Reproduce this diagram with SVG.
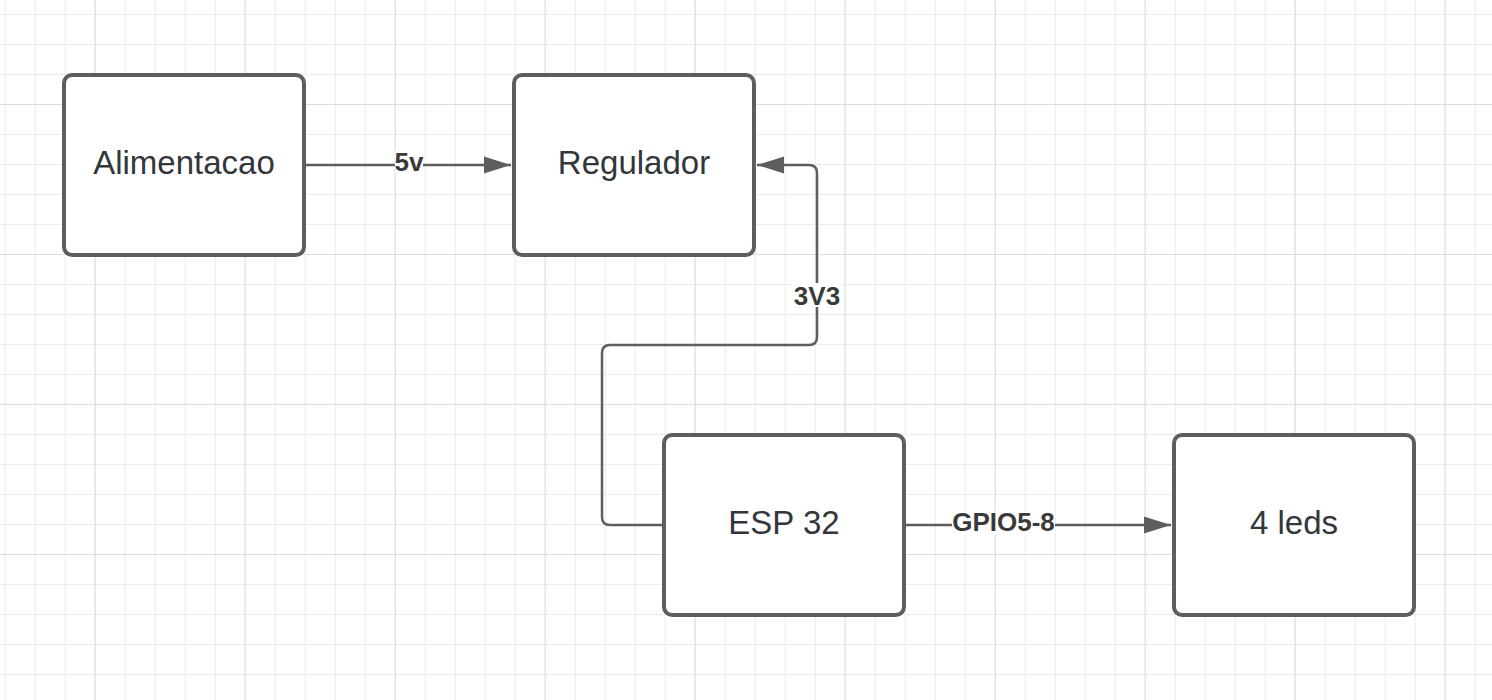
<svg xmlns="http://www.w3.org/2000/svg" width="1492" height="700" viewBox="0 0 1492 700">
<defs>
<pattern id="minor" x="4.7" y="14" width="30" height="30" patternUnits="userSpaceOnUse">
<path d="M0 0.5H30M0.5 0V30" fill="none" stroke="#ebebeb" stroke-width="1"/>
</pattern>
<pattern id="major" x="94.7" y="104" width="150" height="150" patternUnits="userSpaceOnUse">
<path d="M0 0.5H150M0.5 0V150" fill="none" stroke="#dedede" stroke-width="1"/>
</pattern>
<marker id="arrow" markerUnits="userSpaceOnUse" markerWidth="28" markerHeight="18" refX="27" refY="9" orient="auto">
<path d="M0 0.5L27 9L0 17.5Z" fill="#5e5e5e"/>
</marker>
<style>
.box{fill:#fff;stroke:#5e5e5e;stroke-width:4}
.lbl{font-family:"Liberation Sans",Arial,sans-serif;font-size:33px;fill:#33363b;text-anchor:middle}
.edge{fill:none;stroke:#5e5e5e;stroke-width:2.5;marker-end:url(#arrow)}
.etxt{font-family:"Liberation Sans",Arial,sans-serif;font-size:26px;font-weight:bold;fill:#3a3a3a;text-anchor:middle}
.ebg{fill:#fff}
</style>
</defs>
<rect width="1492" height="700" fill="#fff"/>
<rect width="1492" height="700" fill="url(#minor)"/>
<rect width="1492" height="700" fill="url(#major)"/>
<g id="connectors">
<g id="e1">
<path class="edge" d="M305 165H511"/>
<rect class="ebg" x="395" y="150" width="28" height="24"/>
<text class="etxt" x="409" y="170.5">5v</text>
</g>
<g id="e2">
<path class="edge" d="M664 525H610Q602 525 602 517V353Q602 345 610 345H809Q817 345 817 337V173Q817 165 809 165H757"/>
<rect class="ebg" x="792" y="283" width="50" height="24"/>
<text class="etxt" x="817" y="304.5">3V3</text>
</g>
<g id="e3">
<path class="edge" d="M905 525H1171"/>
<rect class="ebg" x="952" y="511" width="103" height="24"/>
<text class="etxt" x="1003.5" y="531">GPIO5-8</text>
</g>
</g>
<g id="alimentacao">
<rect class="box" x="64" y="75" width="240" height="180" rx="8"/>
<text class="lbl" x="184" y="174">Alimentacao</text>
</g>
<g id="regulador">
<rect class="box" x="514" y="75" width="240" height="180" rx="8"/>
<text class="lbl" x="634" y="174">Regulador</text>
</g>
<g id="esp32">
<rect class="box" x="664" y="435" width="240" height="180" rx="8"/>
<text class="lbl" x="784" y="534">ESP 32</text>
</g>
<g id="leds">
<rect class="box" x="1174" y="435" width="240" height="180" rx="8"/>
<text class="lbl" x="1294" y="534">4 leds</text>
</g>
</svg>
